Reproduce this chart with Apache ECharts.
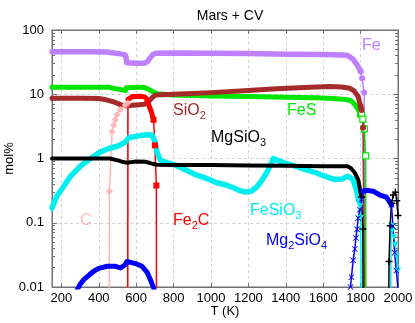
<!DOCTYPE html>
<html><head><meta charset="utf-8">
<script src="https://cdn.jsdelivr.net/npm/echarts@6/dist/echarts.min.js"></script>
<style>html,body{margin:0;padding:0;background:#fff}#c{width:415px;height:323px}</style>
</head><body><div id="c"></div>
<script>
const FONT = "'Liberation Sans', Arial, sans-serif";
const titleText = 'Mars + CV';
const xTicks = [200, 400, 600, 800, 1000, 1200, 1400, 1600, 1800, 2000];
const yTicks = [0.01, 0.1, 1, 10, 100];
const yTickLabels = ['0.01', '0.1', '1', '10', '100'];
const yMinorTicks = [0.02,0.03,0.04,0.05,0.06,0.07,0.08,0.09,0.2,0.3,0.4,0.5,0.6,0.7,0.8,0.9,2,3,4,5,6,7,8,9,20,30,40,50,60,70,80,90];

// Fe
const feMain = [[150,46],[250,46],[350,46],[440,45.5],[480,44],[515,42.5],[542,41],[546,37],[549,31],[555,30.3],[600,30.3],[645,30.5],[660,32],[675,37],[690,41.5],[705,43.5],[800,44],[1000,43.5],[1200,43],[1400,42],[1600,41.5],[1700,41],[1730,40],[1760,35],[1787,27],[1801,22.5]];
const feDrop = [[1801,22.5],[1808,17.8],[1819,10.6],[1823,0.0001]];
// FeS
const fesMain = [[150,12.9],[300,12.9],[455,12.8],[490,12.2],[520,11.8],[543,11.4],[547,12.6],[555,12.9],[600,12.9],[640,12.8],[665,12],[690,10.9],[712,10.2],[800,9.7],[1000,9.4],[1200,9.2],[1400,9.0],[1550,8.8],[1650,8.6],[1720,8.3],[1745,8.0],[1765,7.2],[1778,6.3],[1792,5.5],[1800,5.0]];
const fesDrop = [[1800,5.0],[1805,4.8],[1812,4.1],[1820,2.9],[1827,1.1],[1829,0.0001]];
// SiO2
const sio2Main = [[150,8.7],[300,8.7],[400,8.6],[440,8.2],[480,7.6],[516,6.9],[545,6.6],[600,6.8],[645,7.0],[665,7.6],[685,8.8],[705,9.7],[800,10.0],[1000,10.6],[1200,11.4],[1350,12.2],[1500,12.7],[1636,13.2],[1700,13.0],[1742,12.4],[1765,11.3],[1787,9.2],[1800,6.5]];
const sio2Drop = [[1800,6.5],[1805,5.7],[1813,3.0],[1826,0.0001]];
// C
const cData = [[455,0.0001],[457,0.31],[471,2.6],[480,3.3],[489,4.0],[498,4.8],[516,5.8],[542,6.8],[555,7.3],[556,0.0001]];
// Fe2C
const fe2cRise = [[554,0.0001],[556,8.3]];
const fe2cMain = [[556,8.3],[565,8.9],[580,9.2],[620,9.3],[645,9.1],[657,8.4],[667,6.8],[681,5.4],[693,4.0]];
const fe2cDrop = [[693,4.0],[700,1.6],[708,0.38],[709,0.0001]];
// FeSiO3
const fesio3Main = [[150,0.17],[165,0.22],[180,0.27],[213,0.37],[249,0.53],[302,0.76],[356,1.0],[409,1.27],[453,1.43],[500,1.55],[542,1.8],[560,2.1],[613,2.25],[660,2.35],[685,2.3],[695,2.0],[702,1.76],[711,1.27],[729,0.95],[760,0.87],[809,0.79],[871,0.65],[925,0.55],[969,0.5],[1031,0.42],[1076,0.39],[1110,0.36],[1150,0.32],[1185,0.3],[1215,0.31],[1245,0.36],[1275,0.47],[1300,0.62],[1320,0.8],[1333,1.0],[1350,0.95],[1396,0.85],[1450,0.76],[1503,0.68],[1560,0.6],[1609,0.53],[1662,0.47],[1700,0.48],[1733,0.53],[1760,0.47],[1778,0.32],[1790,0.22]];
const fesio3Drop = [[1790,0.22],[1796,0.18],[1801,0.12],[1806,0.0001]];
const fesio3Late = [[1958,0.0001],[1963,0.09],[1970,0.075],[1978,0.06],[1985,0.045],[1993,0.03],[2000,0.018]];
// MgSiO3
const mgsio3Main = [[150,1.0],[300,1.0],[460,1.0],[490,0.95],[520,0.9],[550,0.86],[556,0.9],[600,0.9],[650,0.89],[680,0.84],[710,0.8],[800,0.79],[1000,0.79],[1200,0.78],[1400,0.77],[1600,0.76],[1730,0.76],[1750,0.7],[1769,0.6],[1787,0.47],[1798,0.32],[1805,0.25]];
const mgsio3Drop = [[1805,0.25],[1812,0.08],[1816,0.0001]];
const mgsio3Late = [[1948,0.0001],[1952,0.025],[1958,0.09],[1965,0.2],[1975,0.27],[1986,0.3],[1993,0.22],[2000,0.13]];
// Mg2SiO4
const mg2sio4Low = [[280,0.0085],[300,0.011],[320,0.013],[350,0.0155],[373,0.0176],[400,0.0195],[445,0.021],[490,0.021],[516,0.0198],[540,0.022],[551,0.025],[575,0.024],[600,0.023],[631,0.021],[658,0.017],[676,0.013],[693,0.0098],[700,0.008]];
const mg2sio4Rise = [[1744,0.008],[1746,0.01],[1751,0.0142],[1760,0.026],[1769,0.039],[1775,0.058],[1781,0.079],[1787,0.118],[1796,0.16],[1805,0.23],[1813,0.31]];
const mg2sio4Bump = [[1813,0.31],[1831,0.32],[1867,0.31],[1903,0.27],[1938,0.25],[1965,0.19]];
const mg2sio4Fall = [[1965,0.19],[1973,0.088],[1982,0.034],[1991,0.018],[2000,0.0095]];

const COL = {Fe:'#bf80ff', FeS:'#00e600', SiO2:'#a52a2a', C:'#ffb6b6', Fe2C:'#ff0000', FeSiO3:'#00eeee', MgSiO3:'#000000', Mg2SiO4:'#0000ff'};
const PLUS = 'path://M4,0H6V4H10V6H6V10H4V6H0V4H4Z';
const CROSS = 'path://M0,1L1,0L5,4L9,0L10,1L6,5L10,9L9,10L5,6L1,10L0,9L4,5Z';
const TRI_DOWN = 'path://M0,0L10,0L5,9Z';

function thick(name, data, color, w) {
  return {type:'line', name, data, showSymbol:false, symbol:'none', clip:true, animation:false,
    lineStyle:{color, width:w||5, join:'round', cap:'round'}, itemStyle:{color}};
}
function thin(name, data, color, symbol, size, empty) {
  return {type:'line', name, data, symbol: symbol||'none', symbolSize:size||6, showSymbol:!!symbol, clip:true, animation:false,
    lineStyle:{color, width:1.5}, itemStyle: empty ? {color:'#fff', borderColor:color, borderWidth:1.2} : {color}};
}

const series = [
  thick('Fe', feMain, COL.Fe, 5.5),
  thin('Fe', feDrop, COL.Fe, 'circle', 6),
  thick('FeS', fesMain, COL.FeS, 5),
  thin('FeS', fesDrop, COL.FeS, 'rect', 6, true),
  thick('SiO2', sio2Main, COL.SiO2, 5),
  thin('SiO2', sio2Drop, COL.SiO2, 'circle', 6),
  thin('C', cData, COL.C, 'diamond', 7),
  thin('Fe2C', fe2cRise, COL.Fe2C),
  thick('Fe2C', fe2cMain, COL.Fe2C, 5),
  thin('Fe2C', fe2cDrop, COL.Fe2C, 'rect', 6),
  thick('FeSiO3', fesio3Main, COL.FeSiO3, 5.5),
  thin('FeSiO3', fesio3Drop, COL.FeSiO3, TRI_DOWN, 6),
  thin('FeSiO3', fesio3Late, COL.FeSiO3, TRI_DOWN, 6),
  thick('MgSiO3', mgsio3Main, COL.MgSiO3, 4),
  thin('MgSiO3', mgsio3Drop, COL.MgSiO3, PLUS, 7),
  thin('MgSiO3', mgsio3Late, COL.MgSiO3, PLUS, 7),
  thick('Mg2SiO4', mg2sio4Low, COL.Mg2SiO4, 5),
  thin('Mg2SiO4', mg2sio4Rise, COL.Mg2SiO4, CROSS, 6),
  thick('Mg2SiO4', mg2sio4Bump, COL.Mg2SiO4, 5),
  thin('Mg2SiO4', mg2sio4Fall, COL.Mg2SiO4, CROSS, 6)
];

function label(parts, x, y, color) {
  const txt = parts.map(p => (p[1] ? '{s|' : '{m|') + p[0] + '}').join('');
  return {type:'text', x, y, silent:true, z:100, style:{text: txt, fill: color, fontFamily: FONT, fontSize:16,
    rich:{ m:{fontSize:16, fontFamily:FONT, fill:color, lineHeight:21}, s:{fontSize:11, fontFamily:FONT, fill:color, verticalAlign:'bottom', lineHeight:11} }}};
}

const axisGray = '#707070';
const gridLine = {show:true, lineStyle:{color:'#d4d4d4', type:[3,3], width:1}};
function logAxis(extra) {
  return Object.assign({type:'log', logBase:10, min:0.01, max:100,
    axisLine:{show:false}, axisLabel:{show:false}, splitLine:{show:false}}, extra);
}
const chart = echarts.init(document.getElementById('c'), null, {renderer:'canvas'});
chart.setOption({
  backgroundColor:'#fff',
  animation:false,
  title:{text:titleText, left:225, top:4, textAlign:'center', textStyle:{fontFamily:FONT, fontSize:14, fontWeight:'normal', color:'#000'}},
  grid:{left:52, right:17, top:30, bottom:36, show:true, borderColor:axisGray, borderWidth:1, containLabel:false, outerBoundsMode:'none'},
  xAxis:[
    {type:'value', min:150, max:2000, splitNumber:9, position:'bottom',
     name:'T (K)', nameLocation:'middle', nameGap:18, nameMoveOverlap:false, nameTextStyle:{fontFamily:FONT, fontSize:13, color:'#000'},
     axisLine:{show:true, onZero:false, lineStyle:{color:axisGray}},
     axisTick:{show:true, inside:true, length:4, customValues:xTicks, lineStyle:{color:axisGray}},
     axisLabel:{fontFamily:FONT, fontSize:13, color:'#000', margin:5, customValues:xTicks, formatter:v => (xTicks.indexOf(+v) >= 0 ? String(v) : '')},
     splitLine:gridLine},
    {type:'value', min:150, max:2000, splitNumber:9, position:'top',
     axisLine:{show:true, onZero:false, lineStyle:{color:axisGray}},
     axisTick:{show:true, inside:true, length:4, customValues:xTicks, lineStyle:{color:axisGray}},
     axisLabel:{show:false}, splitLine:{show:false}}
  ],
  yAxis:[
    logAxis({position:'left',
     name:'mol%', nameLocation:'middle', nameGap:36, nameMoveOverlap:false, nameRotate:90, nameTextStyle:{fontFamily:FONT, fontSize:13, color:'#000'},
     axisLine:{show:true, onZero:false, lineStyle:{color:axisGray}},
     axisTick:{show:true, inside:true, length:5, customValues:yTicks, lineStyle:{color:axisGray}},
     axisLabel:{show:true, fontFamily:FONT, fontSize:13, color:'#000', margin:8, customValues:yTicks, formatter:v => {
        const i = yTicks.findIndex(t => Math.abs(Math.log10(t) - Math.log10(v)) < 1e-6);
        return i >= 0 ? yTickLabels[i] : '';
     }},
     splitLine:gridLine}),
    logAxis({position:'left',
     axisTick:{show:true, inside:true, length:3, customValues:yMinorTicks, lineStyle:{color:axisGray}}}),
    logAxis({position:'right',
     axisLine:{show:true, onZero:false, lineStyle:{color:axisGray}},
     axisTick:{show:true, inside:true, length:5, customValues:yTicks, lineStyle:{color:axisGray}}}),
    logAxis({position:'right',
     axisTick:{show:true, inside:true, length:3, customValues:yMinorTicks, lineStyle:{color:axisGray}}})
  ],
  series,
  graphic:[
    label([['Fe',0]], 362, 35, COL.Fe),
    label([['SiO',0],['2',1]], 173, 100, COL.SiO2),
    label([['FeS',0]], 287, 100, COL.FeS),
    label([['MgSiO',0],['3',1]], 211, 127, '#000'),
    label([['C',0]], 80, 210, COL.C),
    label([['Fe',0],['2',1],['C',0]], 173, 210, COL.Fe2C),
    label([['FeSiO',0],['3',1]], 250, 200, COL.FeSiO3),
    label([['Mg',0],['2',1],['SiO',0],['4',1]], 266, 230, COL.Mg2SiO4)
  ]
});
</script></body></html>
